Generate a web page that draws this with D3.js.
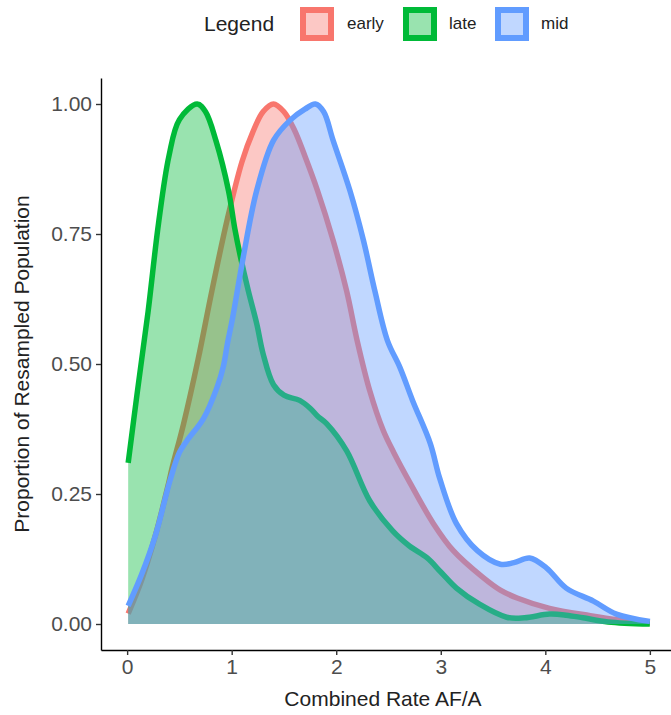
<!DOCTYPE html>
<html>
<head>
<meta charset="utf-8">
<script src="https://cdn.jsdelivr.net/npm/d3@7"></script>
<style>
  html, body { margin: 0; padding: 0; background: #fff; }
  svg { display: block; font-family: "Liberation Sans", Arial, sans-serif; }
</style>
</head>
<body>
<svg id="chart" width="671" height="715"></svg>
<script>
// ---- data ----
const seriesNames = ["early", "late", "mid"];
const seriesColors = ["#F8766D", "#00BA38", "#619CFF"];

const earlyX = [0.01, 0.14, 0.27, 0.39, 0.43, 0.54, 0.68, 0.81, 0.96, 1.1, 1.2, 1.3, 1.4, 1.5, 1.6, 1.7, 1.82, 1.97, 2.1, 2.2, 2.32, 2.45, 2.55, 2.71, 2.93, 3.12, 3.4, 3.57, 3.73, 4.04, 4.43, 4.7, 5.0];
const earlyY = [0.02, 0.085, 0.17, 0.265, 0.3, 0.385, 0.51, 0.64, 0.78, 0.89, 0.945, 0.985, 1.0, 0.985, 0.95, 0.9, 0.834, 0.738, 0.64, 0.545, 0.449, 0.372, 0.33, 0.27, 0.193, 0.141, 0.09, 0.065, 0.05, 0.03, 0.016, 0.008, 0.002];

const lateX = [0.01, 0.1, 0.2, 0.3, 0.4, 0.5, 0.67, 0.75, 0.85, 0.97, 1.03, 1.08, 1.16, 1.24, 1.3, 1.4, 1.5, 1.65, 1.75, 1.82, 1.91, 2.1, 2.32, 2.54, 2.7, 2.87, 3.0, 3.15, 3.37, 3.63, 3.8, 4.04, 4.2, 4.36, 4.6, 5.0];
const lateY = [0.31, 0.45, 0.6, 0.77, 0.9, 0.97, 1.0, 0.985, 0.929, 0.833, 0.76, 0.71, 0.64, 0.577, 0.52, 0.46, 0.44, 0.43, 0.415, 0.4, 0.385, 0.333, 0.237, 0.179, 0.15, 0.127, 0.1, 0.069, 0.038, 0.013, 0.012, 0.019, 0.017, 0.012, 0.004, 0.0];

const midX = [0.01, 0.14, 0.27, 0.41, 0.5, 0.57, 0.73, 0.86, 0.92, 0.96, 1.01, 1.11, 1.24, 1.4, 1.56, 1.7, 1.8, 1.88, 1.97, 2.13, 2.26, 2.37, 2.49, 2.61, 2.73, 2.9, 2.99, 3.15, 3.35, 3.57, 3.7, 3.85, 4.01, 4.2, 4.46, 4.68, 5.0];
const midY = [0.035, 0.096, 0.17, 0.276, 0.33, 0.352, 0.395, 0.455, 0.495, 0.54, 0.59, 0.705, 0.834, 0.93, 0.969, 0.99, 1.0, 0.985, 0.93, 0.834, 0.738, 0.64, 0.545, 0.493, 0.43, 0.347, 0.28, 0.193, 0.141, 0.115, 0.118, 0.127, 0.108, 0.069, 0.044, 0.019, 0.005];

const xTicks = [0, 1, 2, 3, 4, 5];
const yTicks = [0, 0.25, 0.5, 0.75, 1];
const yTickLabels = ["0.00", "0.25", "0.50", "0.75", "1.00"];
const xTitle = "Combined Rate AF/A";
const yTitle = "Proportion of Resampled Population";
const legendTitle = "Legend";

const seriesData = [
  earlyX.map((x, i) => ({x, y: earlyY[i]})),
  lateX.map((x, i) => ({x, y: lateY[i]})),
  midX.map((x, i) => ({x, y: midY[i]}))
];

// ---- layout ----
const svg = d3.select("#chart");
const x = d3.scaleLinear().domain([-0.25, 5.25]).range([101, 676]);
const y = d3.scaleLinear().domain([-0.05, 1.05]).range([650, 78]);

const area = d3.area().x(d => x(d.x)).y0(y(0)).y1(d => y(d.y)).curve(d3.curveCatmullRom.alpha(0.5));
const line = d3.line().x(d => x(d.x)).y(d => y(d.y)).curve(d3.curveCatmullRom.alpha(0.5));

const g = svg.append("g");
seriesData.forEach((data, i) => {
  g.append("path").attr("d", area(data))
    .attr("fill", seriesColors[i]).attr("fill-opacity", 0.4).attr("stroke", "none");
  g.append("path").attr("d", line(data))
    .attr("fill", "none").attr("stroke", seriesColors[i]).attr("stroke-width", 5.5)
    .attr("stroke-linejoin", "round");
});

// axes
const xAxis = svg.append("g").attr("transform", `translate(0,${y(-0.05)})`)
  .call(d3.axisBottom(x).tickValues(xTicks).tickFormat(d3.format("d")).tickSize(5).tickPadding(4).tickSizeOuter(0));
const yAxis = svg.append("g").attr("transform", `translate(${x(-0.25)},0)`)
  .call(d3.axisLeft(y).tickValues(yTicks).tickFormat((d, i) => yTickLabels[i]).tickSize(5).tickPadding(4).tickSizeOuter(0));
[xAxis, yAxis].forEach(a => {
  a.select(".domain").attr("stroke", "#000").attr("stroke-width", 1.4);
  a.selectAll(".tick line").attr("stroke", "#333").attr("stroke-width", 1.4);
  a.selectAll(".tick text").attr("fill", "#4d4d4d").style("font-size", "21px")
    .style("font-family", "'Liberation Sans', Arial, sans-serif");
});

svg.append("text").attr("x", 383).attr("y", 706).attr("text-anchor", "middle")
  .style("font-size", "21px").attr("fill", "#222").text(xTitle);
svg.append("text").attr("transform", `translate(29,364) rotate(-90)`).attr("text-anchor", "middle")
  .style("font-size", "21px").attr("fill", "#222").text(yTitle);

// legend
const leg = svg.append("g");
leg.append("text").attr("x", 204).attr("y", 31).style("font-size", "21px").attr("fill", "#222").text(legendTitle);
const keyX = [303, 406, 498];
const labX = [347, 449, 541];
seriesNames.forEach((n, i) => {
  leg.append("rect").attr("x", keyX[i]).attr("y", 10).attr("width", 28).attr("height", 28)
    .attr("fill", "#fff").attr("stroke", "none");
  leg.append("rect").attr("x", keyX[i]).attr("y", 10).attr("width", 28).attr("height", 28)
    .attr("fill", seriesColors[i]).attr("fill-opacity", 0.4)
    .attr("stroke", seriesColors[i]).attr("stroke-width", 6);
  leg.append("text").attr("x", labX[i]).attr("y", 29).style("font-size", "17px").attr("fill", "#222").text(n);
});
</script>
</body>
</html>
